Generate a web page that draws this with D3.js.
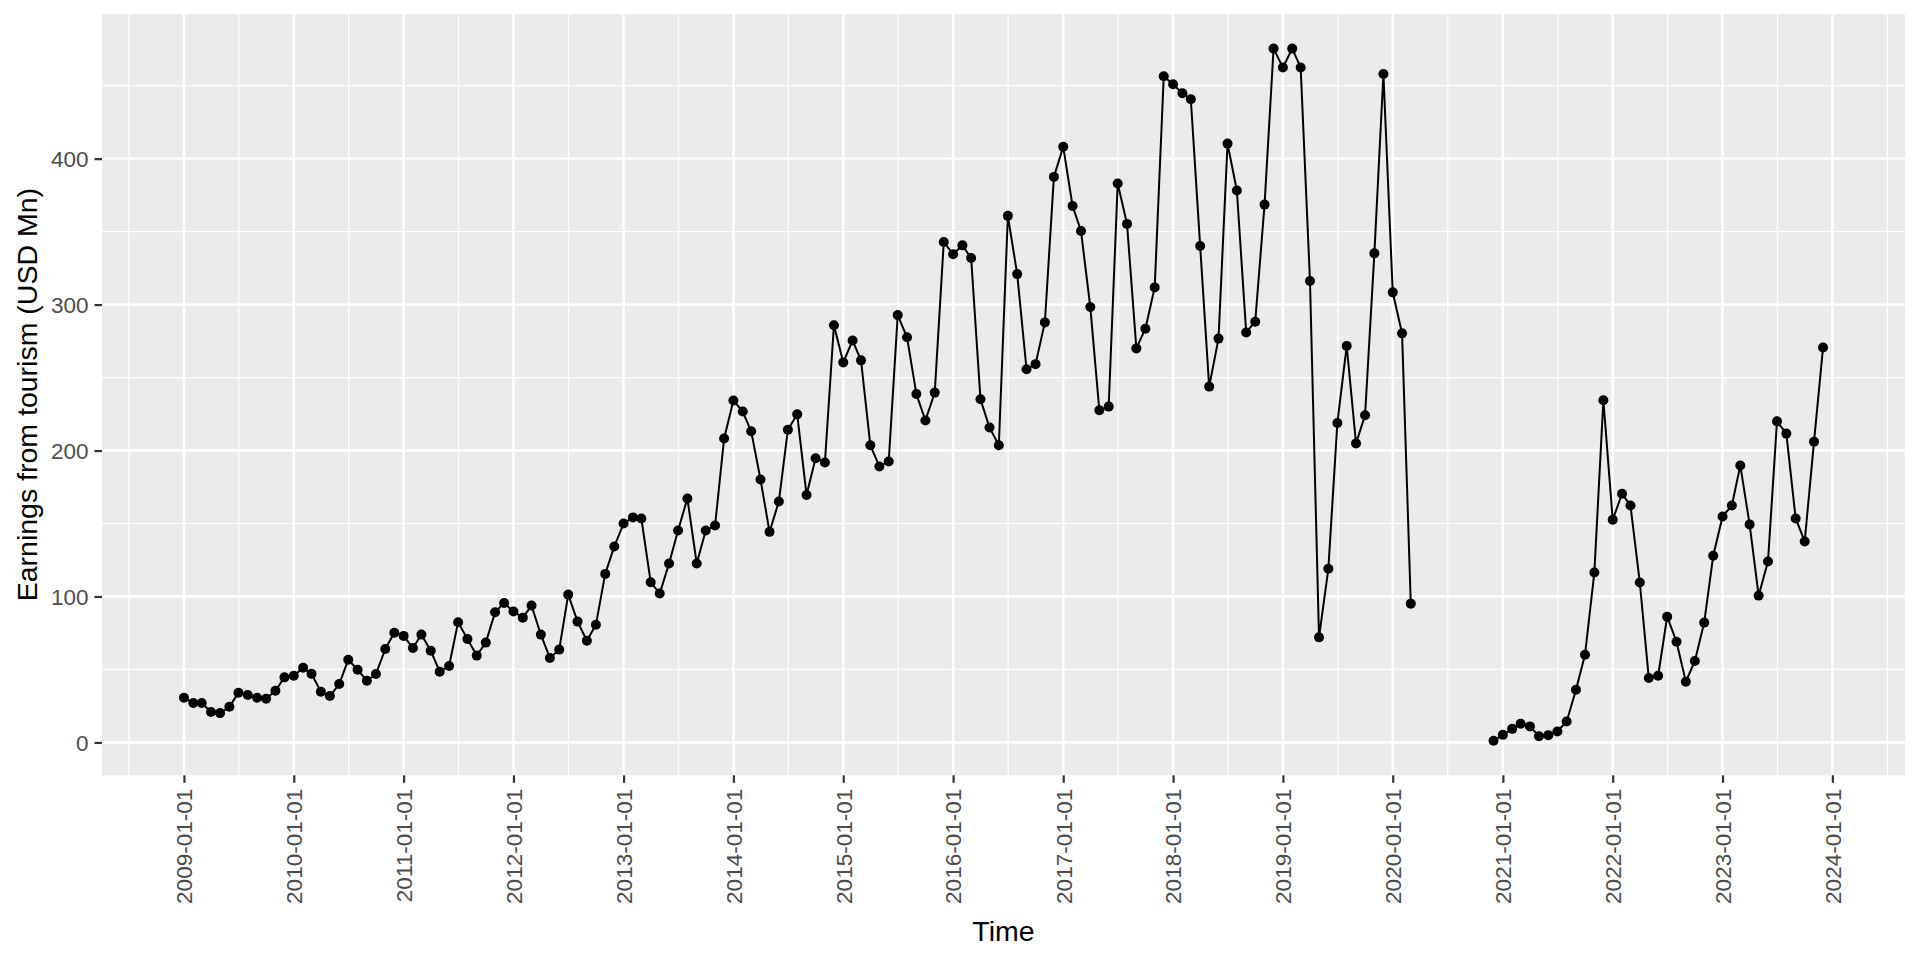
<!DOCTYPE html>
<html>
<head>
<meta charset="utf-8">
<script src="https://cdn.jsdelivr.net/npm/d3@7/dist/d3.min.js"></script>
<style>
  html, body { margin: 0; padding: 0; background: #ffffff; }
  svg { display: block; }
</style>
</head>
<body>
<svg id="chart" width="1920" height="960"></svg>
<script>
// ---- Data (monthly earnings from tourism, USD Mn) ----
const startMonth = "2009-01-01";
const endMonth = "2023-12-01";
const earnings2009 = [30.6, 27, 27, 20.8, 20.1, 24.4, 34, 32.5, 30.6, 30, 35.4, 44.6];
const earnings2010 = [45.7, 51.2, 47, 34.7, 31.8, 40, 56.7, 49.8, 42.3, 46.9, 64, 75.2];
const earnings2011 = [73, 64.7, 73.9, 62.9, 48.5, 52.4, 82.3, 70.9, 59.5, 68.4, 89.2, 95.6];
const earnings2012 = [89.7, 85.5, 93.8, 73.9, 57.9, 63.6, 101.3, 82.8, 69.7, 80.7, 115.5, 134.3];
const earnings2013 = [150, 154.2, 153.5, 109.8, 102, 122.6, 145.2, 167.2, 122.6, 145.2, 148.7, 208.2];
const earnings2014 = [234.3, 226.7, 213.2, 180.2, 144.3, 165.1, 214.3, 224.8, 169.5, 194.7, 191.8, 285.9];
const earnings2015 = [260.4, 275.4, 261.8, 203.6, 189.1, 192.5, 292.8, 277.6, 238.7, 220.6, 239.7, 342.9];
const earnings2016 = [334.5, 340.6, 331.9, 235.1, 215.8, 203.6, 360.8, 320.9, 255.7, 259.2, 287.8, 387.5];
const earnings2017 = [408.1, 367.6, 350.4, 298.3, 227.6, 230.1, 383, 355.3, 270, 283.5, 311.8, 456.5];
const earnings2018 = [451, 444.8, 440.7, 340.2, 243.8, 276.7, 410.3, 378.2, 280.9, 288.3, 368.5, 475.4];
const earnings2019 = [462.5, 475.4, 462.5, 316.2, 72, 119, 218.9, 271.7, 204.9, 224.2, 335.1, 458];
const earnings2020 = [308.4, 280.3, 95.1, null, null, null, null, null, null, null, null, 1.2];
const earnings2021 = [5.2, 9.3, 12.8, 11, 4.3, 5, 7.5, 14.4, 36.1, 60.1, 116.4, 234.5];
const earnings2022 = [152.6, 170.4, 162.4, 109.6, 44.1, 45.7, 86.2, 69, 41.6, 55.8, 82.1, 127.9];
const earnings2023 = [154.8, 162.4, 189.8, 149.4, 100.6, 124, 220, 211.6, 153.5, 137.7, 206.1, 270.6];

const yTicks = [0, 100, 200, 300, 400];
const xTickLabels = ["2009-01-01", "2010-01-01", "2011-01-01", "2012-01-01", "2013-01-01",
  "2014-01-01", "2015-01-01", "2016-01-01", "2017-01-01", "2018-01-01", "2019-01-01",
  "2020-01-01", "2021-01-01", "2022-01-01", "2023-01-01", "2024-01-01"];
const xTitle = "Time";
const yTitle = "Earnings from tourism (USD Mn)";

// ---- Build series ----
const parse = d3.utcParse("%Y-%m-%d");
const values = [].concat(earnings2009, earnings2010, earnings2011, earnings2012, earnings2013,
  earnings2014, earnings2015, earnings2016, earnings2017, earnings2018, earnings2019,
  earnings2020, earnings2021, earnings2022, earnings2023);
const months = d3.utcMonth.range(parse(startMonth), d3.utcMonth.offset(parse(endMonth), 1));
const data = months.map((d, i) => ({ date: d, value: values[i] }));
const valid = data.filter(d => d.value != null);

// ---- Layout ----
const panel = { left: 102, right: 1905, top: 14, bottom: 775.3 };
const FONT = "'Liberation Sans', Arial, Helvetica, sans-serif";

// ggplot-like 5% expansion
const xExt = d3.extent(data, d => +d.date);
const xPad = (xExt[1] - xExt[0]) * 0.05;
const x = d3.scaleUtc()
  .domain([new Date(xExt[0] - xPad), new Date(xExt[1] + xPad)])
  .range([panel.left, panel.right]);

const yExt = d3.extent(valid, d => d.value);
const yPad = (yExt[1] - yExt[0]) * 0.05;
const y = d3.scaleLinear()
  .domain([yExt[0] - yPad, yExt[1] + yPad])
  .range([panel.bottom, panel.top]);

const svg = d3.select("#chart");
svg.append("rect").attr("width", 1920).attr("height", 960).attr("fill", "#ffffff");

// panel background
svg.append("rect")
  .attr("x", panel.left).attr("y", panel.top)
  .attr("width", panel.right - panel.left).attr("height", panel.bottom - panel.top)
  .attr("fill", "#EBEBEB");

const grid = svg.append("g");
const [y0, y1] = y.domain();
const [x0, x1] = x.domain();

// minor grid y
const yMinor = [];
for (let i = 0; i < yTicks.length + 1; i++) {
  const base = i === 0 ? yTicks[0] - (yTicks[1] - yTicks[0]) : yTicks[i - 1];
  const m = base + (yTicks[1] - yTicks[0]) / 2;
  if (m > y0 && m < y1) yMinor.push(m);
}
grid.selectAll("line.ymin").data(yMinor).join("line")
  .attr("x1", panel.left).attr("x2", panel.right)
  .attr("y1", d => y(d)).attr("y2", d => y(d))
  .attr("stroke", "#ffffff").attr("stroke-width", 1.2);

// minor grid x (midpoints between yearly breaks)
const xMajor = xTickLabels.map(s => parse(s));
const xMinor = [];
const allMaj = [d3.utcYear.offset(xMajor[0], -1)].concat(xMajor, [d3.utcYear.offset(xMajor[xMajor.length - 1], 1)]);
for (let i = 0; i < allMaj.length - 1; i++) {
  const m = new Date((+allMaj[i] + +allMaj[i + 1]) / 2);
  if (m > x0 && m < x1) xMinor.push(m);
}
grid.selectAll("line.xmin").data(xMinor).join("line")
  .attr("y1", panel.top).attr("y2", panel.bottom)
  .attr("x1", d => x(d)).attr("x2", d => x(d))
  .attr("stroke", "#ffffff").attr("stroke-width", 1.2);

// major grid
grid.selectAll("line.ymaj").data(yTicks).join("line")
  .attr("x1", panel.left).attr("x2", panel.right)
  .attr("y1", d => y(d)).attr("y2", d => y(d))
  .attr("stroke", "#ffffff").attr("stroke-width", 2.4);
grid.selectAll("line.xmaj").data(xMajor).join("line")
  .attr("y1", panel.top).attr("y2", panel.bottom)
  .attr("x1", d => x(d)).attr("x2", d => x(d))
  .attr("stroke", "#ffffff").attr("stroke-width", 2.4);

// ---- Axes ----
const yAxis = d3.axisLeft(y).tickValues(yTicks).tickSize(7.5).tickPadding(6).tickFormat(d3.format("d"));
const gy = svg.append("g").attr("transform", `translate(${panel.left},0)`).call(yAxis);
gy.select(".domain").remove();
gy.selectAll(".tick line").attr("stroke", "#333333").attr("stroke-width", 2.2);
gy.selectAll(".tick text")
  .attr("fill", "#4D4D4D").attr("font-family", FONT).attr("font-size", 22.5)
  .attr("dy", "0.35em");

const xAxis = d3.axisBottom(x).tickValues(xMajor).tickSize(7.5).tickFormat((d, i) => xTickLabels[i]);
const gx = svg.append("g").attr("transform", `translate(0,${panel.bottom})`).call(xAxis);
gx.select(".domain").remove();
gx.selectAll(".tick line").attr("stroke", "#333333").attr("stroke-width", 2.2);
gx.selectAll(".tick text")
  .attr("fill", "#4D4D4D").attr("font-family", FONT).attr("font-size", 22.5)
  .attr("transform", "rotate(-90)")
  .attr("text-anchor", "end")
  .attr("x", -13.5).attr("y", 0).attr("dy", "0.35em");

// ---- Line + points ----
const line = d3.line()
  .defined(d => d.value != null)
  .x(d => x(d.date)).y(d => y(d.value));
svg.append("path").datum(data)
  .attr("d", line)
  .attr("fill", "none").attr("stroke", "#000000").attr("stroke-width", 2)
  .attr("stroke-linejoin", "round");

svg.append("g").selectAll("circle").data(valid).join("circle")
  .attr("cx", d => x(d.date)).attr("cy", d => y(d.value))
  .attr("r", 5).attr("fill", "#000000");

// ---- Titles ----
svg.append("text")
  .attr("x", (panel.left + panel.right) / 2).attr("y", 931)
  .attr("text-anchor", "middle").attr("dominant-baseline", "central")
  .attr("font-family", FONT).attr("font-size", 28.5).attr("fill", "#000000")
  .text(xTitle);

svg.append("text")
  .attr("transform", `translate(27,${(panel.top + panel.bottom) / 2}) rotate(-90)`)
  .attr("text-anchor", "middle").attr("dominant-baseline", "central")
  .attr("font-family", FONT).attr("font-size", 28.5).attr("fill", "#000000")
  .text(yTitle);
</script>
</body>
</html>
